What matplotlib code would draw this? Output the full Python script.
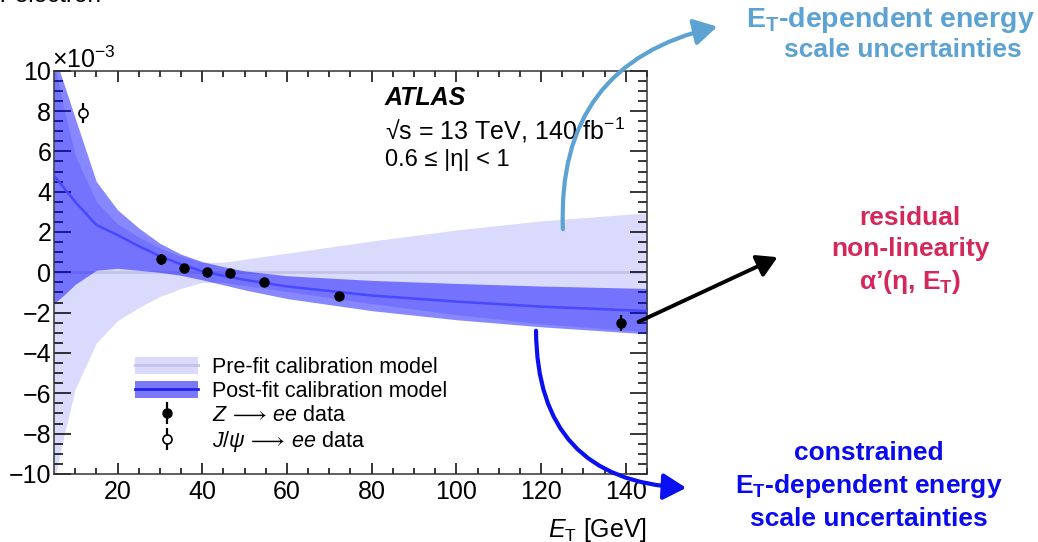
import matplotlib
matplotlib.use("Agg")
import matplotlib.pyplot as plt
from matplotlib.patches import Patch, FancyArrowPatch
from matplotlib.lines import Line2D

plt.rcParams['font.family'] = ['Liberation Sans', 'DejaVu Sans']
plt.rcParams['mathtext.fontset'] = 'custom'
plt.rcParams['mathtext.rm'] = 'Liberation Sans'
plt.rcParams['mathtext.it'] = 'Liberation Sans:italic'
plt.rcParams['mathtext.bf'] = 'Liberation Sans:bold'

# band nodes in E_T [GeV], values in units of 1e-3
et_nodes = [5, 7.5, 10, 15, 20, 25, 30, 35, 40, 45, 50, 60, 80, 100, 120, 145]
pre_half = [10.4, 8.0, 5.8, 3.5, 2.4, 1.75, 1.2, 0.8, 0.5, 0.5, 0.65, 0.95, 1.55, 2.1, 2.55, 2.95]
post_hi = [10.8, 9.25, 7.65, 4.5, 3.1, 2.2, 1.44, 0.9, 0.53, 0.28, 0.07, -0.17, -0.4, -0.55, -0.68, -0.8]
post_lo = [-1.55, -1.1, -0.6, 0.1, 0.2, 0.1, 0.0, -0.15, -0.37, -0.62, -0.87, -1.3, -1.9, -2.35, -2.7, -3.05]
post_mid = [4.8, 4.15, 3.5, 2.35, 1.85, 1.3, 0.8, 0.4, 0.05, -0.17, -0.37, -0.7, -1.15, -1.45, -1.7, -1.92]

# Z -> ee points
z_et = [30.3, 35.7, 41.1, 46.5, 54.6, 72.2, 138.8]
z_val = [0.65, 0.22, 0.02, -0.01, -0.46, -1.15, -2.5]
z_err = [0.28, 0.1, 0.08, 0.08, 0.1, 0.12, 0.4]

# J/psi -> ee point
j_et = [11.8]
j_val = [7.92]
j_err = [0.5]

pre_col = '#dadafc'
pre_line = '#c3c3ea'
post_col = 'blue'
post_alpha = 0.47
post_line = '#4848ff'

fig = plt.figure(figsize=(10.38, 5.42), dpi=100)
ax = fig.add_axes([0.052, 0.1255, 0.5713, 0.7441])

pre_lo = [-v for v in pre_half]
ax.fill_between(et_nodes, pre_lo, pre_half, color=pre_col, lw=0, zorder=1)
ax.plot([et_nodes[0], et_nodes[-1]], [0, 0], color=pre_line, lw=2, zorder=1.5)
ax.fill_between(et_nodes, post_lo, post_hi, color=post_col, alpha=post_alpha, lw=0, zorder=2)
ax.plot(et_nodes, post_mid, color=post_line, lw=1.8, zorder=3)

z_h = ax.errorbar(z_et, z_val, yerr=z_err, fmt='o', color='black', ms=6.5,
                  elinewidth=1.6, capsize=0, zorder=5)
j_h = ax.errorbar(j_et, j_val, yerr=j_err, fmt='o', color='black', mfc='white',
                  mec='black', mew=1.2, ms=6.5, elinewidth=1.6, capsize=0, zorder=5)

ax.set_xlim(5, 145)
ax.set_ylim(-10, 10)
ax.set_xticks(range(20, 141, 20))
ax.set_xticks(range(10, 146, 5), minor=True)
ax.set_yticks(range(-10, 11, 2))
ax.set_yticks([v * 0.5 for v in range(-20, 21)], minor=True)
ax.set_yticklabels([str(v).replace('-', '\u2212') for v in range(-10, 11, 2)])
ax.tick_params(which='both', direction='in', top=True, right=True, width=1.1, labelsize=18)
ax.tick_params(axis='y', which='major', length=12, pad=2)
ax.tick_params(axis='y', which='minor', length=6.5)
ax.tick_params(axis='x', which='major', length=8, pad=4)
ax.tick_params(axis='x', which='minor', length=4.3)
for s in ax.spines.values():
    s.set_linewidth(1.1)
    s.set_color('#333333')


def fpt(x, y):
    return (x / 1038, 1 - y / 542)


fig.text(*fpt(52, 68), r'$\times10^{-3}$', fontsize=18, ha='left', va='baseline')
fig.text(*fpt(647, 530), r'$E_{\mathrm{T}}$ [GeV]', fontsize=18, ha='right', va='center')

# labels
fig.text(*fpt(385, 98), 'ATLAS', fontsize=18, fontweight='bold', fontstyle='italic', va='center')
fig.text(*fpt(385, 130), '\u221as = 13 TeV, 140 fb$^{-1}$', fontsize=18, va='center')
fig.text(*fpt(385, 160), '0.6 \u2264 |\u03b7| < 1', fontsize=17, va='center')

handles = [(Patch(facecolor=pre_col, lw=0), Line2D([], [], color=pre_line, lw=2)),
           (Patch(facecolor='#7a7af9', lw=0), Line2D([], [], color='#2222ee', lw=2)),
           z_h, j_h]
labels = ['Pre-fit calibration model', 'Post-fit calibration model',
          r'$Z\,\longrightarrow\,ee$ data', r'$J/\psi\,\longrightarrow\,ee$ data']
ax.legend(handles, labels, loc='upper left', bbox_to_anchor=fpt(135, 357),
          bbox_transform=fig.transFigure, frameon=False, fontsize=15.5,
          handlelength=2.93, handleheight=0.84, labelspacing=0.14, handletextpad=0.67,
          borderpad=0, borderaxespad=0)

# cropped header from the slide
fig.text(*fpt(0, 1.5), 'r electron', fontsize=17.5, ha='left', va='baseline')

lb = '#5ca2d3'
a1 = FancyArrowPatch(fpt(563, 232), fpt(720, 26), transform=fig.transFigure,
                     connectionstyle='arc3,rad=-0.42', arrowstyle='-|>,head_length=14,head_width=8',
                     color=lb, lw=3, mutation_scale=1, clip_on=False, zorder=10)
fig.add_artist(a1)
a2 = FancyArrowPatch(fpt(636, 323), fpt(780, 256), transform=fig.transFigure,
                     arrowstyle='-|>,head_length=12,head_width=7',
                     color='black', lw=2.8, mutation_scale=1, clip_on=False, zorder=10)
fig.add_artist(a2)
a3 = FancyArrowPatch(fpt(536, 328), fpt(689, 488), transform=fig.transFigure,
                     connectionstyle='arc3,rad=0.48', arrowstyle='-|>,head_length=14,head_width=8',
                     color='#0a10ee', lw=3, mutation_scale=1, clip_on=False, zorder=10)
fig.add_artist(a3)

fig.text(*fpt(1035, 20), 'E$_{\\mathbf{T}}$-dependent energy', color=lb,
         fontsize=20.5, fontweight='bold', ha='right', va='center')
fig.text(*fpt(903, 50), 'scale uncertainties', color=lb,
         fontsize=19, fontweight='bold', ha='center', va='center')
fig.text(*fpt(910, 251), 'residual\nnon-linearity\n\u03b1\u2019(\u03b7, E$_{\\mathbf{T}}$)',
         color='#d4285a', fontsize=19, fontweight='bold', ha='center', va='center',
         linespacing=1.33)
fig.text(*fpt(869, 486), 'constrained\nE$_{\\mathbf{T}}$-dependent energy\nscale uncertainties',
         color='#0a0aee', fontsize=19, fontweight='bold', ha='center', va='center',
         linespacing=1.33)

fig.savefig('out.png', dpi=100)
